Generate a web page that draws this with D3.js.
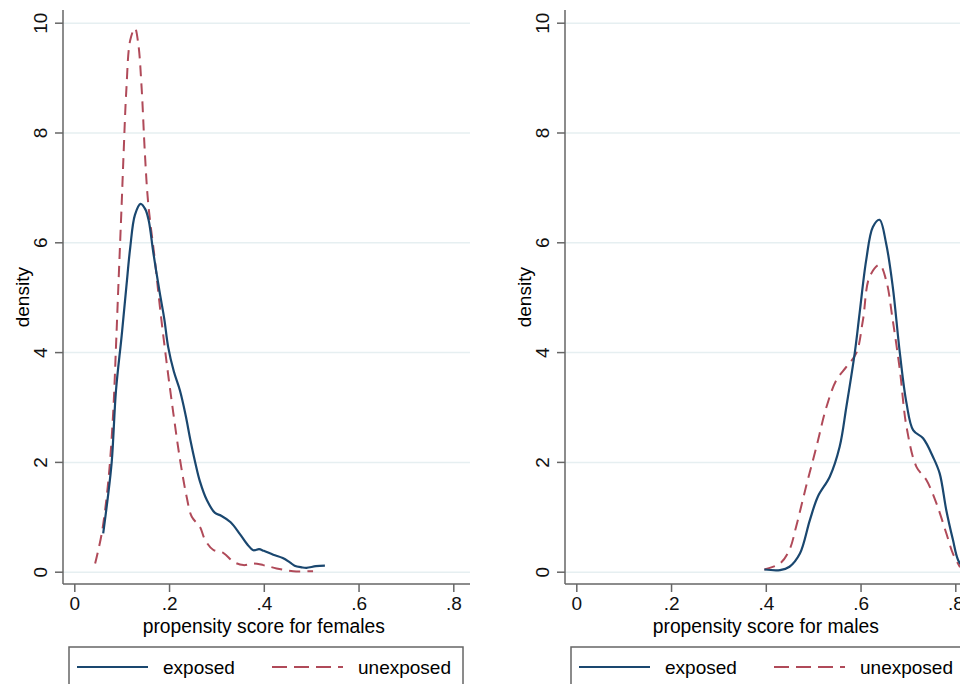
<!DOCTYPE html>
<html>
<head>
<meta charset="utf-8">
<script src="https://cdn.jsdelivr.net/npm/d3@7"></script>
<style>
  body { margin: 0; background: #fff; }
  svg { display: block; overflow: hidden; font-family: "Liberation Sans", Arial, Helvetica, sans-serif; }
  .grid line { stroke: #e6eff1; stroke-width: 1.5; }
  .axis text { font-size: 19px; fill: #111; }
  .axis line { stroke: #666; stroke-width: 1.5; }
  .frame { stroke: #666; stroke-width: 1.5; }
</style>
</head>
<body>
<div id="canvas-wrapper"></div>
<script>

// density estimates: [score, density]
var femalesExposed = [
  [0.061, 0.7], [0.07, 1.3], [0.079, 2.0], [0.088, 3.3], [0.10, 4.3], [0.11, 5.2],
  [0.118, 5.9], [0.128, 6.5], [0.14, 6.7], [0.15, 6.6], [0.157, 6.4], [0.167, 5.8],
  [0.18, 5.1], [0.19, 4.6], [0.198, 4.1], [0.21, 3.65], [0.223, 3.3], [0.235, 2.85],
  [0.245, 2.4], [0.255, 2.0], [0.265, 1.65], [0.28, 1.3], [0.297, 1.07], [0.31, 1.02],
  [0.33, 0.9], [0.35, 0.68], [0.365, 0.5], [0.378, 0.39], [0.39, 0.41], [0.40, 0.38],
  [0.42, 0.31], [0.44, 0.25], [0.455, 0.17], [0.465, 0.11], [0.48, 0.08], [0.49, 0.07],
  [0.51, 0.1], [0.529, 0.11]
];
var femalesUnexposed = [
  [0.044, 0.15], [0.058, 0.7], [0.072, 1.67], [0.082, 2.89], [0.088, 4.1], [0.093, 5.2],
  [0.10, 6.7], [0.104, 7.6], [0.11, 8.8], [0.118, 9.68], [0.128, 9.9], [0.135, 9.62],
  [0.142, 8.83], [0.149, 7.62], [0.156, 6.71], [0.17, 5.68], [0.181, 4.8], [0.195, 3.8],
  [0.209, 2.89], [0.223, 2.05], [0.237, 1.37], [0.248, 1.0], [0.265, 0.82], [0.276, 0.58],
  [0.293, 0.40], [0.315, 0.34], [0.336, 0.18], [0.357, 0.12], [0.378, 0.15], [0.399, 0.12],
  [0.427, 0.06], [0.462, 0.01], [0.504, 0.01]
];
var malesExposed = [
  [0.397, 0.04], [0.43, 0.03], [0.45, 0.09], [0.472, 0.33], [0.493, 0.94], [0.51, 1.37],
  [0.535, 1.73], [0.556, 2.28], [0.57, 3.0], [0.588, 4.0], [0.598, 4.71], [0.612, 5.68],
  [0.626, 6.28], [0.64, 6.41], [0.654, 5.98], [0.668, 5.19], [0.683, 3.98], [0.697, 3.07],
  [0.711, 2.58], [0.732, 2.43], [0.753, 2.09], [0.767, 1.79], [0.781, 1.12], [0.795, 0.58],
  [0.806, 0.21], [0.82, 0.04]
];
var malesUnexposed = [
  [0.397, 0.04], [0.43, 0.15], [0.45, 0.40], [0.464, 0.82], [0.485, 1.55], [0.507, 2.28],
  [0.528, 3.0], [0.549, 3.49], [0.57, 3.73], [0.591, 3.98], [0.605, 4.58], [0.619, 5.37],
  [0.64, 5.59], [0.654, 5.31], [0.668, 4.58], [0.683, 3.67], [0.697, 2.64], [0.718, 1.91],
  [0.739, 1.67], [0.76, 1.25], [0.781, 0.70], [0.795, 0.33], [0.81, 0.08]
];

var xTicks = [0, 0.2, 0.4, 0.6, 0.8];
var yTicks = [0, 2, 4, 6, 8, 10];
var seriesNames = ["exposed", "unexposed"];
var panelTitles = ["propensity score for females", "propensity score for males"];

var colors = { exposed: "#1a476f", unexposed: "#b04a59" };

var svg = d3.select("#canvas-wrapper").append("svg")
    .attr("width", 960)
    .attr("height", 684);

function fmtX(d) {
  return d === 0 ? "0" : d3.format(".1f")(d).replace(/^0/, "");
}

function draw_panel(left, title, exposed, unexposed) {
  var w = 407, h = 574;
  var g = svg.append("g").attr("transform", "translate(" + left + ",10)");

  var x = d3.scaleLinear().domain([0, 0.8]).range([11.3, 390.3]);
  var y = d3.scaleLinear().domain([0, 10]).range([561.7, 12.7]);

  // horizontal gridlines
  g.append("g")
    .attr("class", "grid")
    .call(d3.axisLeft(y).tickValues(yTicks).tickSize(-w).tickFormat(""))
    .call(function(s) { s.select(".domain").remove(); });

  var line = d3.line()
    .x(function(d) { return x(d[0]); })
    .y(function(d) { return y(d[1]); })
    .curve(d3.curveCatmullRom.alpha(0.5));

  g.append("path")
    .datum(unexposed)
    .attr("fill", "none")
    .attr("stroke", colors.unexposed)
    .attr("stroke-width", 2)
    .attr("stroke-dasharray", "11,7")
    .attr("d", line);

  g.append("path")
    .datum(exposed)
    .attr("fill", "none")
    .attr("stroke", colors.exposed)
    .attr("stroke-width", 2.2)
    .attr("d", line);

  // y axis
  var ya = g.append("g")
    .attr("class", "axis")
    .call(d3.axisLeft(y).tickValues(yTicks).tickSize(8).tickSizeOuter(0));
  ya.select(".domain").remove();
  ya.selectAll("text")
    .attr("x", null).attr("dy", "0.35em")
    .attr("text-anchor", "middle")
    .attr("transform", "translate(-23,0) rotate(-90)");

  // x axis
  var xa = g.append("g")
    .attr("class", "axis")
    .attr("transform", "translate(0," + h + ")")
    .call(d3.axisBottom(x).tickValues(xTicks).tickFormat(fmtX).tickSize(8).tickSizeOuter(0));
  xa.select(".domain").remove();
  xa.selectAll("text").attr("y", 13);

  // axis lines
  g.append("line").attr("class", "frame")
    .attr("x1", 0).attr("x2", 0).attr("y1", 0).attr("y2", h);
  g.append("line").attr("class", "frame")
    .attr("x1", 0).attr("x2", w).attr("y1", h).attr("y2", h);

  g.append("text")
    .attr("transform", "translate(-41," + ((y(0) + y(10)) / 2) + ") rotate(-90)")
    .attr("dy", "0.35em")
    .attr("text-anchor", "middle")
    .style("font-size", "19px")
    .text("density");

  g.append("text")
    .attr("x", (x(0) + x(0.8)) / 2)
    .attr("y", h + 49)
    .attr("text-anchor", "middle")
    .style("font-size", "19.3px")
    .text(title);

  // legend
  var lg = g.append("g").attr("transform", "translate(6," + (h + 63) + ")");
  lg.append("rect")
    .attr("width", 394).attr("height", 50)
    .attr("fill", "#fff").attr("stroke", "#666").attr("stroke-width", 1.5);
  var items = [
    { name: seriesNames[0], x0: 8, dash: null },
    { name: seriesNames[1], x0: 203, dash: "15,7" }
  ];
  items.forEach(function(it) {
    lg.append("line")
      .attr("x1", it.x0).attr("x2", it.x0 + 71)
      .attr("y1", 20).attr("y2", 20)
      .attr("stroke", colors[it.name])
      .attr("stroke-width", 1.8)
      .attr("stroke-dasharray", it.dash);
    lg.append("text")
      .attr("x", it.x0 + 86)
      .attr("y", 27)
      .style("font-size", "19px")
      .text(it.name);
  });
}

draw_panel(63, panelTitles[0], femalesExposed, femalesUnexposed);
draw_panel(565, panelTitles[1], malesExposed, malesUnexposed);

</script>
</body>
</html>
